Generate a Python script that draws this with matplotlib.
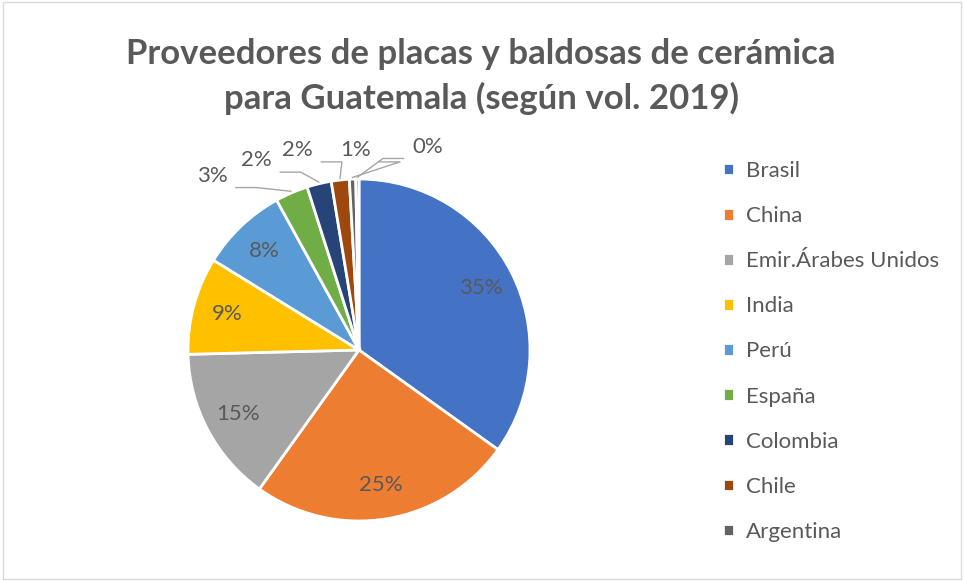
import numpy as np
import matplotlib.pyplot as plt
from matplotlib.patches import Rectangle

# data (share of volume, %)
countries = ['Brasil', 'China', 'Emir.Árabes Unidos', 'India', 'Perú',
             'España', 'Colombia', 'Chile', 'Argentina', 'Otros']
shares = [34.9, 25.0, 14.7, 9.2, 8.2, 3.1, 2.3, 1.7, 0.6, 0.3]
labels = ['35%', '25%', '15%', '9%', '8%', '3%', '2%', '2%', '1%', '0%']
colors = ['#4472C4', '#ED7D31', '#A5A5A5', '#FFC000', '#5B9BD5',
          '#70AD47', '#264478', '#9E480E', '#636363', '#997300']
n_legend = 9  # legend in the original is cut after Argentina

plt.rcParams['font.family'] = ['Lato', 'DejaVu Sans']
txt = '#595959'

fig = plt.figure(figsize=(9.64, 5.81), dpi=100)
fig.patches.append(Rectangle((0.003, 0.004), 0.994, 0.992, transform=fig.transFigure,
                             fill=False, edgecolor='#D9D9D9', linewidth=1))

fig.text(0.499, 0.868, 'Proveedores de placas y baldosas de cerámica\npara Guatemala (según vol. 2019)',
         ha='center', va='center', fontsize=25, fontweight='bold', color=txt,
         linespacing=1.42)

# pie axes: center (359, 350) px, radius 171 px
W, H = 964, 581
cx, cy, r = 359, 350, 171
ax = fig.add_axes([(cx - r) / W, (H - cy - r) / H, 2 * r / W, 2 * r / H])
wedges, _ = ax.pie(shares, colors=colors, startangle=90, counterclock=False,
                   wedgeprops=dict(edgecolor='white', linewidth=2))
ax.set_xlim(-1, 1)
ax.set_ylim(-1, 1)
ax.set_aspect('equal')
ax.axis('off')

# outside label offsets for the small slices (in radius units)
outside = {5: (-0.86, 1.02), 6: (-0.60, 1.11), 7: (-0.36, 1.17),
           8: (-0.02, 1.17), 9: (0.40, 1.19)}
for i, w in enumerate(wedges):
    ang = np.deg2rad((w.theta1 + w.theta2) / 2)
    if i not in outside:
        ax.text(0.8 * np.cos(ang), 0.8 * np.sin(ang), labels[i], ha='center',
                va='center', fontsize=16, color=txt)
    else:
        lx, ly = outside[i]
        ex, ey = np.cos(ang), np.sin(ang)
        ax.text(lx, ly, labels[i], ha='center', va='center', fontsize=16,
                color=txt, clip_on=False)
        # leader line: from label edge, horizontal then to wedge edge
        side = -1 if i < 9 else 1
        ax.plot([lx - side * 0.14, lx - side * 0.26, ex * 1.01],
                [ly - 0.07, ly - 0.07, ey * 1.01], color='#A6A6A6',
                linewidth=1, clip_on=False)

leg = fig.legend(wedges[:n_legend], countries[:n_legend], loc='upper left',
                 bbox_to_anchor=(703 / W, 1 - 141 / H), frameon=False,
                 fontsize=16, labelcolor=txt, handlelength=0.5, handleheight=0.5,
                 handletextpad=0.55, labelspacing=1.13)

fig.savefig('out.png', dpi=100)
